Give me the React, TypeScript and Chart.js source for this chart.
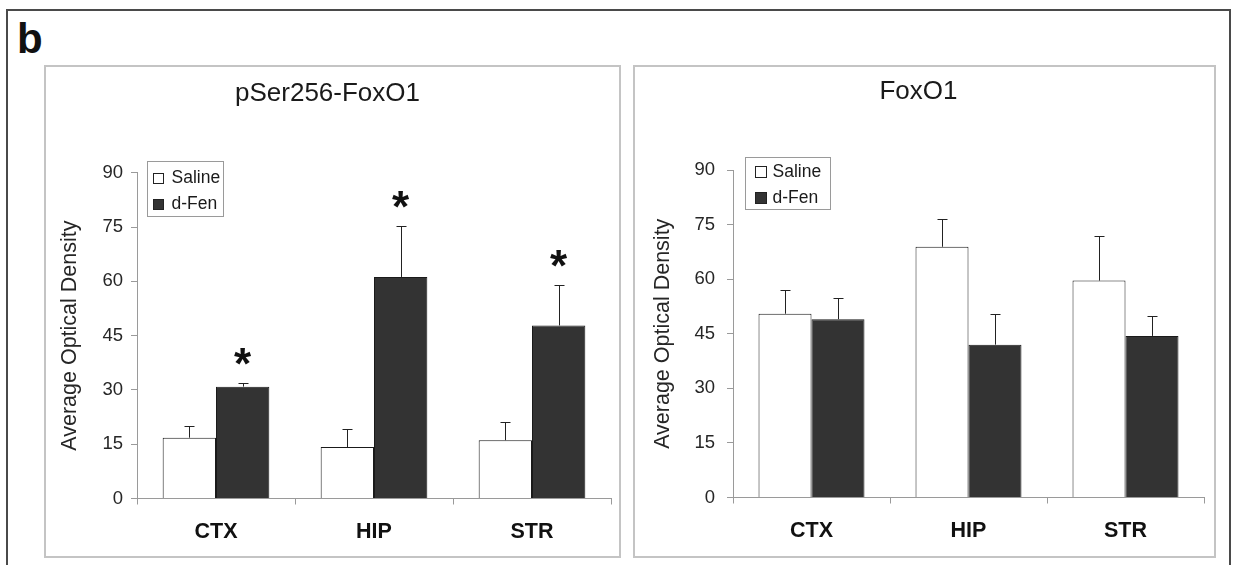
import React, { useEffect, useRef } from 'react';
import { Chart, registerables } from 'chart.js';

Chart.register(...registerables);
Chart.defaults.font.family = "'Liberation Sans', Arial, sans-serif";

// ---------- data ----------
const categories = ['CTX', 'HIP', 'STR'];
const seriesNames = ['Saline', 'd-Fen'];
const yTickValues = [0, 15, 30, 45, 60, 75, 90];

const pSerTitle = 'pSer256-FoxO1';
const pSerSaline = [16.8, 14.2, 16.1];
const pSerSalineErr = [3.3, 4.9, 5.0];
const pSerDFen = [30.9, 61.2, 47.8];
const pSerDFenErr = [1.0, 14.2, 11.3];
const pSerSalineStars = [false, false, false];
const pSerDFenStars = [true, true, true];

const foxTitle = 'FoxO1';
const foxSaline = [50.5, 68.9, 59.6];
const foxSalineErr = [6.4, 7.7, 12.2];
const foxDFen = [49.0, 42.0, 44.4];
const foxDFenErr = [5.9, 8.3, 5.5];
const foxSalineStars = [false, false, false];
const foxDFenStars = [false, false, false];

const yAxisTitle = 'Average Optical Density';

// ---------- plugin: error bars, stars, legend box ----------
const extrasPlugin = {
  id: 'extras',
  afterDatasetsDraw(chart: any, _args: any, opts: any) {
    const ctx = chart.ctx;
    const yScale = chart.scales.y;
    ctx.save();
    chart.data.datasets.forEach((ds: any, di: number) => {
      const meta = chart.getDatasetMeta(di);
      const errs = opts.errors[di];
      const stars = opts.stars[di];
      meta.data.forEach((el: any, i: number) => {
        const x = Math.round(el.x) + 0.5;
        const yTop = el.y;
        const yErr = Math.round(yScale.getPixelForValue(ds.data[i] + errs[i])) + 0.5;
        ctx.strokeStyle = '#222';
        ctx.lineWidth = 1;
        ctx.beginPath();
        ctx.moveTo(x, yTop);
        ctx.lineTo(x, yErr);
        ctx.moveTo(x - 5, yErr);
        ctx.lineTo(x + 5, yErr);
        ctx.stroke();
        if (stars[i]) {
          ctx.fillStyle = '#111';
          ctx.font = "bold 44px 'Liberation Sans', Arial, sans-serif";
          ctx.textAlign = 'center';
          ctx.textBaseline = 'alphabetic';
          const m = ctx.measureText('*');
          const cy = yErr - opts.starGap;
          const base = cy + (m.actualBoundingBoxAscent - m.actualBoundingBoxDescent) / 2;
          ctx.fillText('*', el.x, base);
        }
      });
    });
    const L = opts.legend;
    const ca = chart.chartArea;
    const x0 = Math.round(ca.left + L.dx) + 0.5;
    const y0 = Math.round(ca.top + L.dy) + 0.5;
    ctx.strokeStyle = '#9a9a9a';
    ctx.lineWidth = 1;
    ctx.strokeRect(x0, y0, L.w, L.h);
    chart.data.datasets.forEach((ds: any, di: number) => {
      const cy = y0 + L.rows[di];
      ctx.fillStyle = ds.backgroundColor;
      ctx.fillRect(x0 + L.sqX, Math.round(cy - L.sq / 2), L.sq, L.sq);
      ctx.strokeStyle = '#222';
      ctx.strokeRect(x0 + L.sqX, Math.round(cy - L.sq / 2) + 0.5, L.sq, L.sq);
      ctx.fillStyle = '#1a1a1a';
      ctx.font = "17.5px 'Liberation Sans', Arial, sans-serif";
      ctx.textAlign = 'left';
      ctx.textBaseline = 'middle';
      ctx.fillText(ds.label, x0 + L.textX, cy + 1);
    });
    ctx.restore();
  },
};

type PanelCfg = {
  title: string;
  saline: number[];
  salineErr: number[];
  dfen: number[];
  dfenErr: number[];
  salineStars: boolean[];
  dfenStars: boolean[];
  width: number;
  height: number;
  yWidth: number;
  xHeight: number;
  padRight: number;
  titlePadTop: number;
  titlePadBottom: number;
  yTitlePad: number;
  yTickPad: number;
  legend: any;
};

function makeConfig(p: PanelCfg): any {
  return {
    type: 'bar',
    data: {
      labels: categories,
      datasets: [
        {
          label: seriesNames[0],
          data: p.saline,
          backgroundColor: '#ffffff',
          borderColor: '#1a1a1a',
          borderWidth: 1,
          barPercentage: 1,
          categoryPercentage: 0.675,
        },
        {
          label: seriesNames[1],
          data: p.dfen,
          backgroundColor: '#333333',
          borderColor: '#1a1a1a',
          borderWidth: 1,
          barPercentage: 1,
          categoryPercentage: 0.675,
        },
      ],
    },
    options: {
      responsive: false,
      animation: false,
      events: [],
      layout: { padding: { left: 0, right: p.padRight, top: 0, bottom: 0 } },
      plugins: {
        legend: { display: false },
        tooltip: { enabled: false },
        title: {
          display: true,
          text: p.title,
          color: '#1a1a1a',
          font: { size: 26, weight: 'normal' },
          padding: { top: p.titlePadTop, bottom: p.titlePadBottom },
        },
        extras: {
          errors: [p.salineErr, p.dfenErr],
          stars: [p.salineStars, p.dfenStars],
          starGap: 27,
          legend: p.legend,
        },
      },
      scales: {
        x: {
          offset: true,
          grid: {
            offset: true,
            drawOnChartArea: false,
            drawTicks: true,
            tickLength: 6,
            color: '#9a9a9a',
          },
          border: { display: true, color: '#9a9a9a', width: 1 },
          ticks: {
            color: '#111',
            font: { size: 21.5, weight: 'bold' },
            padding: 15,
          },
          afterFit: (s: any) => {
            s.height = p.xHeight;
          },
        },
        y: {
          min: 0,
          max: 90,
          afterBuildTicks: (s: any) => {
            s.ticks = yTickValues.map((v) => ({ value: v }));
          },
          grid: {
            drawOnChartArea: false,
            drawTicks: true,
            tickLength: 6,
            color: '#9a9a9a',
          },
          border: { display: true, color: '#9a9a9a', width: 1 },
          ticks: {
            color: '#262626',
            font: { size: 18.5 },
            padding: p.yTickPad,
          },
          title: {
            display: true,
            text: yAxisTitle,
            color: '#262626',
            font: { size: 21.5 },
            padding: { top: p.yTitlePad, bottom: 0 },
          },
          afterFit: (s: any) => {
            s.width = p.yWidth;
          },
        },
      },
    },
    plugins: [extrasPlugin],
  };
}

function ChartPanel(props: { cfg: PanelCfg; left: number; top: number }) {
  const ref = useRef<HTMLCanvasElement | null>(null);
  useEffect(() => {
    if (!ref.current) return;
    const chart = new Chart(ref.current, makeConfig(props.cfg));
    return () => chart.destroy();
  }, []);
  return (
    <canvas
      ref={ref}
      width={props.cfg.width}
      height={props.cfg.height}
      style={{
        position: 'absolute',
        left: props.left,
        top: props.top,
        width: props.cfg.width,
        height: props.cfg.height,
      }}
    />
  );
}

const leftCfg: PanelCfg = {
  title: pSerTitle,
  saline: pSerSaline,
  salineErr: pSerSalineErr,
  dfen: pSerDFen,
  dfenErr: pSerDFenErr,
  salineStars: pSerSalineStars,
  dfenStars: pSerDFenStars,
  width: 577,
  height: 493,
  yWidth: 93,
  xHeight: 59.5,
  padRight: 10,
  titlePadTop: 13,
  titlePadBottom: 63.5,
  yTitlePad: 13,
  yTickPad: 8,
  legend: { dx: 10, dy: -11.7, w: 76, h: 55, sqX: 6, sq: 10, textX: 24, rows: [16, 42] },
};

const rightCfg: PanelCfg = {
  title: foxTitle,
  saline: foxSaline,
  salineErr: foxSalineErr,
  dfen: foxDFen,
  dfenErr: foxDFenErr,
  salineStars: foxSalineStars,
  dfenStars: foxDFenStars,
  width: 583,
  height: 493,
  yWidth: 100,
  xHeight: 60.5,
  padRight: 12,
  titlePadTop: 11,
  titlePadBottom: 62.8,
  yTitlePad: 17,
  yTickPad: 12,
  legend: { dx: 12, dy: -13, w: 85, h: 52, sqX: 10, sq: 11, textX: 27, rows: [14, 40] },
};

export default function App() {
  return (
    <div
      style={{
        position: 'fixed',
        left: 0,
        top: 0,
        width: 1236,
        height: 565,
        overflow: 'hidden',
        background: '#ffffff',
      }}
    >
      <div
        style={{
          position: 'absolute',
          left: 6,
          top: 9,
          width: 1225,
          height: 600,
          boxSizing: 'border-box',
          border: '2px solid #4a4a4a',
        }}
      />
      <div
        style={{
          position: 'absolute',
          left: 17,
          top: 16,
          fontFamily: "'Liberation Sans', Arial, sans-serif",
          fontWeight: 'bold',
          fontSize: 42,
          lineHeight: '46px',
          color: '#111',
        }}
      >
        b
      </div>
      <div
        style={{
          position: 'absolute',
          left: 44,
          top: 65,
          width: 577,
          height: 493,
          boxSizing: 'border-box',
          border: '2px solid #c4c4c4',
        }}
      />
      <div
        style={{
          position: 'absolute',
          left: 633,
          top: 65,
          width: 583,
          height: 493,
          boxSizing: 'border-box',
          border: '2px solid #c4c4c4',
        }}
      />
      <ChartPanel cfg={leftCfg} left={44} top={65} />
      <ChartPanel cfg={rightCfg} left={633} top={65} />
    </div>
  );
}
